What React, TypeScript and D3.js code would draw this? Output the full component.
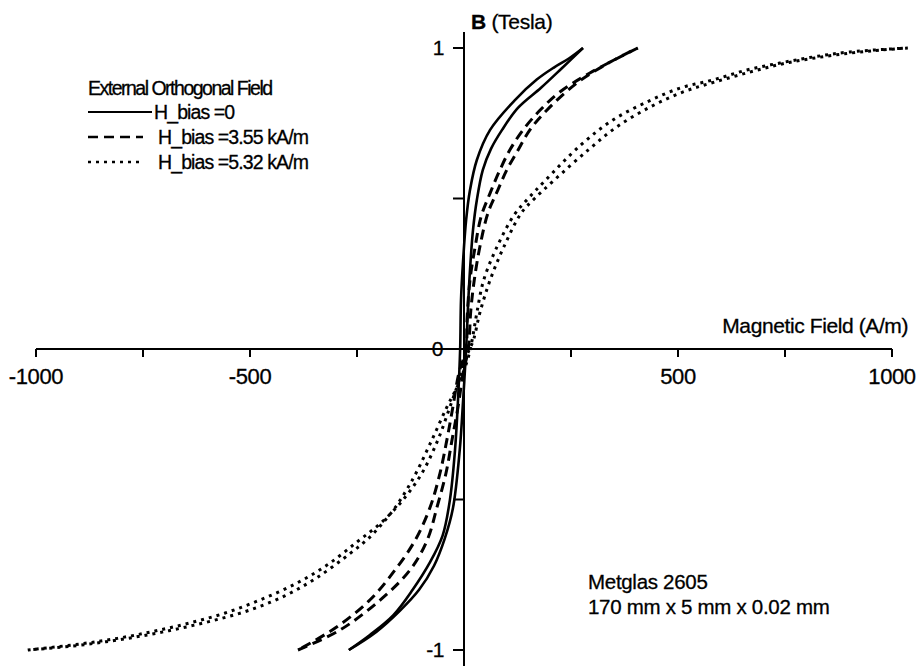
import React, { useEffect, useRef } from "react";
import * as d3 from "d3";

// hysteresis branches, [H (A/m), B (T)]
const solidDown: [number, number][] = [
  [278, 1.0], [245, 0.965], [210, 0.935], [170, 0.895], [119, 0.827], [61, 0.728],
  [30, 0.628], [14, 0.528], [5, 0.429], [-2, 0.296], [-7, 0.163], [-9, 0],
  [-14, -0.169], [-21, -0.336], [-33, -0.502], [-50, -0.62], [-80, -0.71],
  [-120, -0.8], [-165, -0.884], [-220, -0.95], [-269, -1.0],
];
const solidUp: [number, number][] = [
  [-269, -1.0], [-205, -0.94], [-150, -0.87], [-105, -0.8], [-70, -0.72],
  [-45, -0.63], [-26, -0.53], [-10, -0.336], [-2, -0.169], [5, 0], [9, 0.13],
  [14, 0.262], [21, 0.395], [30, 0.495], [44, 0.595], [63, 0.665], [89, 0.728],
  [126, 0.801], [180, 0.868], [228, 0.932], [278, 1.0],
];
const dashedDown: [number, number][] = [
  [406, 1.0], [294, 0.917], [224, 0.854], [178, 0.794], [138, 0.728], [107, 0.661],
  [84, 0.595], [61, 0.518], [40, 0.44], [26, 0.339], [14, 0.229], [7, 0.096],
  [5, 0], [-12, -0.08], [-26, -0.193], [-40, -0.302], [-56, -0.412], [-79, -0.525],
  [-114, -0.635], [-161, -0.734], [-220, -0.834], [-301, -0.927], [-388, -1.0],
];
const dashedUp: [number, number][] = [
  [-388, -1.0], [-290, -0.934], [-196, -0.834], [-126, -0.734], [-86, -0.635],
  [-63, -0.525], [-42, -0.412], [-28, -0.302], [-14, -0.193], [-2, -0.08], [10, 0],
  [16, 0.13], [24, 0.229], [37, 0.339], [56, 0.452], [79, 0.528], [100, 0.595],
  [124, 0.655], [154, 0.728], [194, 0.794], [264, 0.884], [341, 0.953], [406, 1.0],
];
const dottedDown: [number, number][] = [
  [1037, 1.0], [902, 0.987], [815, 0.97], [738, 0.95], [661, 0.927], [582, 0.894],
  [505, 0.867], [428, 0.821], [348, 0.761], [273, 0.678], [190, 0.56], [150, 0.5],
  [117, 0.445], [77, 0.339], [46, 0.229], [30, 0.12], [19, 0.03], [8, -0.037],
  [-14, -0.12], [-40, -0.193], [-75, -0.302], [-112, -0.412], [-135, -0.47],
  [-160, -0.525], [-188, -0.575], [-220, -0.625], [-265, -0.678], [-345, -0.761],
  [-420, -0.821], [-500, -0.867], [-580, -0.9], [-660, -0.927], [-740, -0.95],
  [-825, -0.97], [-915, -0.987], [-1019, -1.0],
];
const dottedUp: [number, number][] = [
  [-1019, -1.0], [-897, -0.98], [-804, -0.96], [-722, -0.937], [-640, -0.91],
  [-558, -0.877], [-477, -0.834], [-395, -0.781], [-320, -0.718], [-250, -0.641],
  [-192, -0.575], [-143, -0.502], [-98, -0.412], [-61, -0.302], [-33, -0.193],
  [-11, -0.103], [7, -0.02], [22, 0.03], [37, 0.12], [61, 0.229], [93, 0.339],
  [134, 0.452], [165, 0.5], [210, 0.56], [290, 0.661], [357, 0.738], [435, 0.804],
  [512, 0.854], [586, 0.887], [668, 0.92], [743, 0.947], [820, 0.967], [902, 0.983],
  [972, 0.993], [1037, 1.0],
];

const legendTitle = "External Orthogonal Field";
const legendLabels = ["H_bias =0", "H_bias =3.55 kA/m", "H_bias =5.32 kA/m"];
const dashStyles = ["none", "10 6", "3 5"];

const xTicks = [-1000, -750, -500, -250, 250, 500, 750, 1000];
const xTickLabels = [-1000, -500, 500, 1000];
const yTicks = [1, 0.5, -0.5, -1];
const yTickLabels = [1, 0, -1];

const noteLines = ["Metglas 2605", "170 mm x 5 mm x 0.02 mm"];

const width = 920;
const height = 666;

const App = () => {
  const ref = useRef<SVGSVGElement>(null);

  useEffect(() => {
    const svg = d3.select(ref.current);
    svg.selectAll("*").remove();

    const x = d3.scaleLinear().domain([-1000, 1000]).range([36, 892]);
    const y = d3.scaleLinear().domain([-1, 1]).range([650, 48]);
    const font = "'Liberation Sans', Arial, sans-serif";

    const g = svg.append("g").attr("font-family", font).attr("fill", "#000");
    const txt = g.append("g").attr("stroke", "#000").attr("stroke-width", 0.3);

    // x axis on B = 0
    g.append("line")
      .attr("x1", x(-1000)).attr("x2", x(1000))
      .attr("y1", y(0)).attr("y2", y(0))
      .attr("stroke", "#000").attr("stroke-width", 2);
    g.selectAll(".xt")
      .data(xTicks)
      .enter()
      .append("line")
      .attr("x1", (d) => x(d)).attr("x2", (d) => x(d))
      .attr("y1", y(0)).attr("y2", y(0) + 8)
      .attr("stroke", "#000").attr("stroke-width", 2);
    txt.selectAll(".xl")
      .data(xTickLabels)
      .enter()
      .append("text")
      .attr("x", (d) => x(d))
      .attr("y", y(0) + 35)
      .attr("text-anchor", "middle")
      .attr("font-size", 22)
      .attr("letter-spacing", -0.4)
      .text((d) => String(d));

    // y axis on H = 0
    g.append("line")
      .attr("x1", x(0)).attr("x2", x(0))
      .attr("y1", 32).attr("y2", height)
      .attr("stroke", "#000").attr("stroke-width", 2);
    g.selectAll(".yt")
      .data(yTicks)
      .enter()
      .append("line")
      .attr("x1", x(0) - 11).attr("x2", x(0))
      .attr("y1", (d) => y(d)).attr("y2", (d) => y(d))
      .attr("stroke", "#000").attr("stroke-width", 2);
    txt.selectAll(".yl")
      .data(yTickLabels)
      .enter()
      .append("text")
      .attr("x", (d) => (d === 0 ? x(0) - 21 : x(0) - 20))
      .attr("y", (d) => y(d))
      .attr("dy", "0.35em")
      .attr("text-anchor", "end")
      .attr("font-size", 21)
      .attr("letter-spacing", -0.5)
      .text((d) => String(d));

    const bt = txt.append("text")
      .attr("x", x(0) + 7).attr("y", 29)
      .attr("font-size", 21).attr("letter-spacing", -0.3);
    bt.append("tspan").attr("font-weight", "bold").text("B");
    bt.append("tspan").text(" (Tesla)");
    txt.append("text")
      .attr("x", 908).attr("y", 333)
      .attr("text-anchor", "end")
      .attr("font-size", 21).attr("letter-spacing", -0.4)
      .text("Magnetic Field (A/m)");

    // loops
    const line = d3
      .line<[number, number]>()
      .x((d) => x(d[0]))
      .y((d) => y(d[1]))
      .curve(d3.curveCatmullRom.alpha(0.5));
    const series = [
      [solidDown, solidUp],
      [dashedDown, dashedUp],
      [dottedDown, dottedUp],
    ];
    series.forEach((branches, i) => {
      branches.forEach((b) => {
        g.append("path")
          .attr("d", line(b))
          .attr("fill", "none")
          .attr("stroke", "#000")
          .attr("stroke-width", i === 0 ? 2.6 : 3)
          .attr("stroke-dasharray", dashStyles[i]);
      });
    });

    // legend
    txt.append("text")
      .attr("x", 88).attr("y", 95)
      .attr("font-size", 19.5).attr("letter-spacing", -1.5)
      .text(legendTitle);
    const lg = g
      .selectAll(".lg")
      .data(legendLabels)
      .enter()
      .append("g")
      .attr("transform", (d, i) => `translate(88, ${112 + i * 25})`);
    lg.append("line")
      .attr("x1", 0)
      .attr("x2", (d, i) => (i === 0 ? 64 : 55))
      .attr("stroke", "#000")
      .attr("stroke-width", (d, i) => (i === 0 ? 2 : 2.5))
      .attr("stroke-dasharray", (d, i) => dashStyles[i]);
    lg.append("text")
      .attr("x", (d, i) => (i === 0 ? 66 : 70))
      .attr("dy", "0.35em")
      .attr("font-size", 19.5)
      .attr("letter-spacing", -0.9)
      .attr("stroke", "#000")
      .attr("stroke-width", 0.3)
      .text((d) => d);

    // sample note
    txt.selectAll(".note")
      .data(noteLines)
      .enter()
      .append("text")
      .attr("x", 588)
      .attr("y", (d, i) => 589 + i * 25)
      .attr("font-size", 20.5)
      .attr("letter-spacing", -0.3)
      .text((d) => d);
  }, []);

  return (
    <svg
      ref={ref}
      width={width}
      height={height}
      style={{ position: "absolute", left: 0, top: 0, background: "#fff" }}
    ></svg>
  );
};

export default App;
